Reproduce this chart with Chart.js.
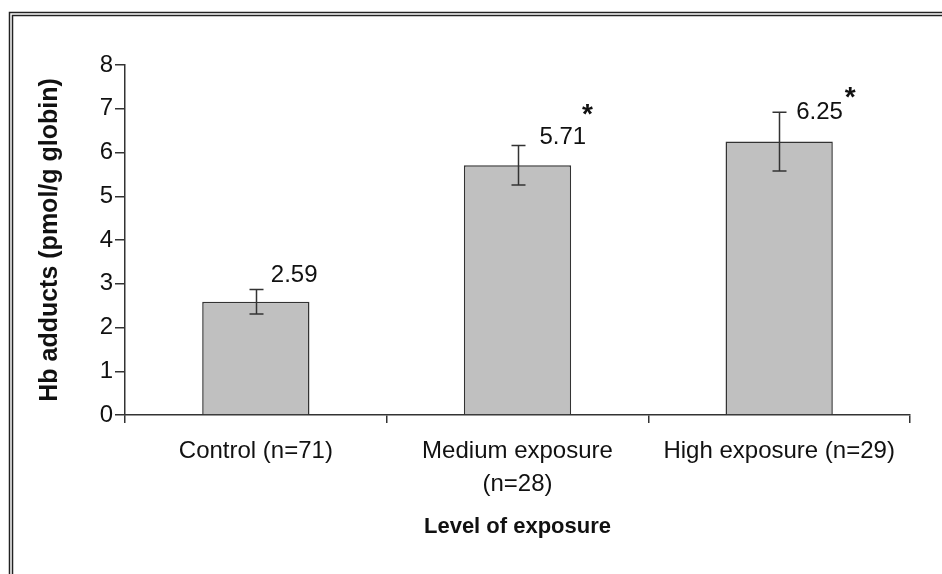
<!DOCTYPE html>
<html>
<head>
<meta charset="utf-8">
<script src="https://cdn.jsdelivr.net/npm/chart.js@4"></script>
<style>
  body { margin: 0; background: #fff; }
  canvas { display: block; }
</style>
</head>
<body>
<canvas id="chart" width="942" height="574"></canvas>
<script>
const categories = [["Control (n=71)"], ["Medium exposure", "(n=28)"], ["High exposure (n=29)"]];
const means = [2.59, 5.71, 6.25];
const errors = [0.28, 0.45, 0.67];
const valueLabels = ["2.59", "5.71", "6.25"];
const marks = ["", "*", "*"];
const yTicks = [0, 1, 2, 3, 4, 5, 6, 7, 8];

// where each value label / asterisk sits relative to its bar (pixels)
const labelShift = [[15, 14], [22, 8], [17, 0]];
const markShift = [[0, 0], [70, 30], [71, 14]];

const ink = "#333333";
const fontName = "'Liberation Sans', Arial, sans-serif";

// double frame round the picture
const framePlugin = {
    id: "frame",
    beforeDraw(chart) {
        const ctx = chart.ctx;
        ctx.save();
        ctx.fillStyle = "#fff";
        ctx.fillRect(0, 0, chart.width, chart.height);
        ctx.strokeStyle = "#222";
        ctx.lineWidth = 1.5;
        ctx.beginPath();
        ctx.moveTo(9.5, chart.height);
        ctx.lineTo(9.5, 12.5);
        ctx.lineTo(chart.width, 12.5);
        ctx.moveTo(12.5, chart.height);
        ctx.lineTo(12.5, 15.5);
        ctx.lineTo(chart.width, 15.5);
        ctx.stroke();
        ctx.restore();
    }
};

// error bars, value labels and significance marks
const extrasPlugin = {
    id: "extras",
    afterDatasetsDraw(chart) {
        const ctx = chart.ctx;
        const y = chart.scales.y;
        const bars = chart.getDatasetMeta(0).data;
        ctx.save();
        ctx.strokeStyle = ink;
        ctx.lineWidth = 1.5;
        bars.forEach((bar, i) => {
            const x = Math.round(bar.x) + 0.5;
            const top = y.getPixelForValue(means[i] + errors[i]);
            const bottom = y.getPixelForValue(means[i] - errors[i]);
            ctx.beginPath();
            ctx.moveTo(x, top);
            ctx.lineTo(x, bottom);
            ctx.moveTo(x - 7, top);
            ctx.lineTo(x + 7, top);
            ctx.moveTo(x - 7, bottom);
            ctx.lineTo(x + 7, bottom);
            ctx.stroke();

            ctx.fillStyle = "#111";
            ctx.font = "24px " + fontName;
            ctx.textAlign = "left";
            ctx.textBaseline = "middle";
            ctx.fillText(valueLabels[i], bar.x + labelShift[i][0], top - labelShift[i][1]);

            if (marks[i]) {
                ctx.font = "bold 28px " + fontName;
                ctx.textAlign = "center";
                ctx.fillText(marks[i], bar.x + markShift[i][0], top - markShift[i][1]);
            }
        });
        ctx.restore();
    }
};

new Chart(document.getElementById("chart"), {
    type: "bar",
    data: {
        labels: categories,
        datasets: [{
            data: means,
            backgroundColor: "#c0c0c0",
            borderColor: ink,
            borderWidth: 1.5,
            barPercentage: 0.41,
            categoryPercentage: 1
        }]
    },
    options: {
        responsive: false,
        animation: false,
        devicePixelRatio: 1,
        layout: { padding: { top: 65, right: 32, bottom: 0, left: 0 } },
        plugins: {
            legend: { display: false },
            tooltip: { enabled: false }
        },
        scales: {
            x: {
                offset: true,
                grid: { offset: true, drawOnChartArea: false, tickLength: 8, color: ink, lineWidth: 1.5 },
                border: { color: ink, width: 1.5 },
                ticks: {
                    color: "#111",
                    padding: 12,
                    maxRotation: 0,
                    autoSkip: false,
                    font: { family: fontName, size: 24, lineHeight: 1.38 }
                },
                title: {
                    display: true,
                    text: "Level of exposure",
                    color: "#111",
                    font: { family: fontName, size: 22, weight: "bold" },
                    padding: { top: 0, bottom: 34 }
                },
                afterFit(scale) { scale.height = 159; }
            },
            y: {
                min: 0,
                max: 8,
                afterBuildTicks(scale) { scale.ticks = yTicks.map(v => ({ value: v })); },
                grid: { drawOnChartArea: false, tickLength: 10, color: ink, lineWidth: 1.5 },
                border: { color: ink, width: 1.5 },
                ticks: {
                    color: "#111",
                    padding: 2,
                    font: { family: fontName, size: 24 }
                },
                title: {
                    display: true,
                    text: "Hb adducts (pmol/g globin)",
                    color: "#111",
                    font: { family: fontName, size: 25, weight: "bold" },
                    padding: { top: 35, bottom: 0 }
                },
                afterFit(scale) { scale.width = 125; }
            }
        }
    },
    plugins: [framePlugin, extrasPlugin]
});
</script>
</body>
</html>
